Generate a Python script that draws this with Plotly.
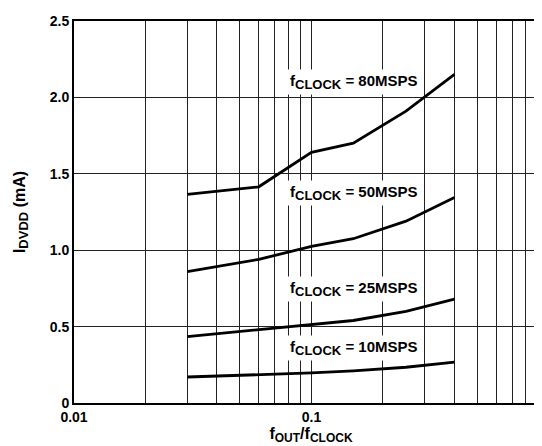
import math
import plotly.graph_objects as go

# Data
f_ratio = [0.03, 0.06, 0.1, 0.15, 0.25, 0.4]
i_80msps = [1.365, 1.415, 1.64, 1.70, 1.91, 2.15]
i_50msps = [0.86, 0.94, 1.025, 1.075, 1.19, 1.345]
i_25msps = [0.435, 0.48, 0.515, 0.54, 0.60, 0.68]
i_10msps = [0.17, 0.185, 0.197, 0.21, 0.234, 0.268]

series = [
    ("80MSPS", i_80msps, 0.151, 2.064),
    ("50MSPS", i_50msps, 0.151, 1.332),
    ("25MSPS", i_25msps, 0.151, 0.71),
    ("10MSPS", i_10msps, 0.151, 0.323),
]

grid_x = [0.01, 0.02, 0.03, 0.04, 0.05, 0.06, 0.07, 0.08, 0.09,
          0.1, 0.2, 0.3, 0.4, 0.5, 0.6, 0.7, 0.8, 0.9]
x_labels = {0.01: "0.01", 0.1: "0.1"}
y_ticks = [0, 0.5, 1.0, 1.5, 2.0, 2.5]
y_ticktext = ["0", "0.5", "1.0", "1.5", "2.0", "2.5"]

FONT = "Liberation Sans, Arial, sans-serif"


def sub(s, size):
    return "<sub><span style='font-size:%dpx'>%s</span></sub>" % (size, s)


fig = go.Figure()
for name, vals, lx, ly in series:
    fig.add_trace(go.Scatter(x=f_ratio, y=vals, mode="lines", name=name,
                             line=dict(color="black", width=2.8),
                             showlegend=False, hoverinfo="skip"))
    fig.add_annotation(x=math.log10(lx), y=ly, xref="x", yref="y", yshift=6,
                       text="<b>f" + sub("CLOCK", 13) + " = " + name + "</b>",
                       showarrow=False, bgcolor="white", borderpad=2,
                       font=dict(size=15, color="black", family=FONT))

# thicker grid line at the 0.1 decade
fig.add_shape(type="line", xref="x", yref="paper",
              x0=-1, x1=-1, y0=0, y1=1,
              line=dict(color="black", width=2), layer="between")

# the "1" tick label is cut at the right edge in the reference
fig.add_annotation(x=1.004, y=0, xref="paper", yref="paper", yanchor="top",
                   xanchor="center", yshift=-3, text="<b>1</b>", showarrow=False,
                   font=dict(size=14, color="black", family=FONT))

fig.update_layout(
    width=542, height=446,
    margin=dict(l=66, r=0, t=13, b=51),
    plot_bgcolor="white", paper_bgcolor="white",
    font=dict(family=FONT, color="black", size=14),
)
fig.update_xaxes(
    type="log", range=[-2, -0.004],
    tickvals=grid_x,
    ticktext=["<b>" + x_labels[v] + "</b>" if v in x_labels else "" for v in grid_x],
    showgrid=True, gridcolor="#222222", gridwidth=1.2, zeroline=False,
    showline=True, linecolor="black", linewidth=2, mirror=True,
    ticks="", tickfont=dict(size=14, color="black"),
    title=dict(text="<b>f" + sub("OUT", 12) + "/f" + sub("CLOCK", 12) + "</b>",
               standoff=2, font=dict(size=16, color="black")),
)
fig.update_yaxes(
    range=[0, 2.5], tickvals=y_ticks,
    ticktext=["<b>" + t + "</b>" for t in y_ticktext],
    showgrid=True, gridcolor="#222222", gridwidth=1.2, zeroline=False,
    showline=True, linecolor="black", linewidth=2, mirror=True,
    ticks="", tickfont=dict(size=14, color="black"),
    title=dict(text="<b>I" + sub("DVDD", 13) + " (mA)</b>", standoff=20,
               font=dict(size=16, color="black")),
)

fig.write_html("out.html")
